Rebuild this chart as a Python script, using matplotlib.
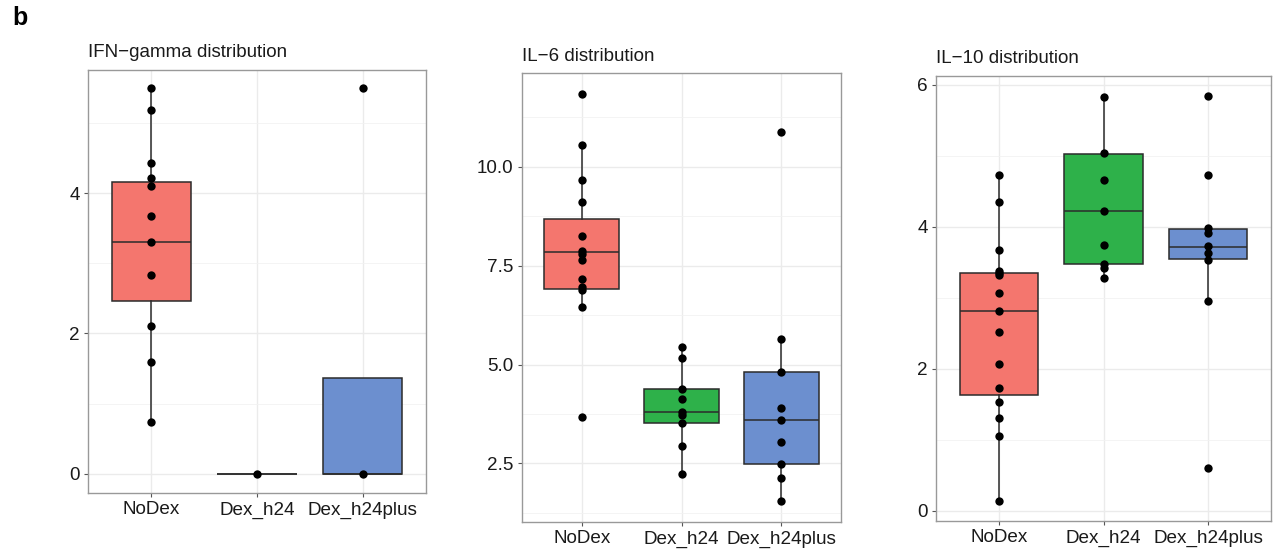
import matplotlib.pyplot as plt
from matplotlib.ticker import AutoMinorLocator, FormatStrFormatter

plt.rcParams['font.family'] = ['Liberation Sans', 'DejaVu Sans']

groups = ["NoDex", "Dex_h24", "Dex_h24plus"]
colors = ["#F4766E", "#2EB14A", "#6C8FCF"]

# IFN-gamma : points et stats des boites
ifn_pts = [
    [5.50, 5.19, 4.43, 4.22, 4.10, 3.68, 3.31, 2.83, 2.11, 1.59, 0.74],
    [0.0],
    [5.50, 0.0],
]
ifn_lo = [0.74, 0.0, 0.0]
ifn_q1 = [2.47, 0.0, 0.0]
ifn_med = [3.31, 0.0, 0.0]
ifn_q3 = [4.16, 0.0, 1.37]
ifn_hi = [5.50, 0.0, 1.37]

# IL-6
il6_pts = [
    [11.85, 10.55, 9.67, 9.12, 8.25, 7.87, 7.80, 7.65, 7.17, 6.95, 6.89, 6.46, 3.68],
    [5.45, 5.17, 4.37, 4.13, 3.81, 3.72, 3.51, 2.94, 2.23],
    [10.89, 5.64, 4.81, 3.90, 3.61, 3.05, 2.49, 2.13, 1.54],
]
il6_lo = [6.46, 2.23, 1.54]
il6_q1 = [6.92, 3.51, 2.49]
il6_med = [7.84, 3.81, 3.61]
il6_q3 = [8.69, 4.37, 4.81]
il6_hi = [10.55, 5.45, 5.64]

# IL-10
il10_pts = [
    [4.73, 4.34, 3.67, 3.38, 3.35, 3.32, 3.07, 2.81, 2.51, 2.06, 1.73, 1.53, 1.31, 1.05, 0.14],
    [5.82, 5.04, 4.65, 4.22, 3.74, 3.47, 3.41, 3.28],
    [5.84, 4.72, 3.98, 3.91, 3.72, 3.63, 3.53, 2.95, 0.60],
]
il10_lo = [0.14, 3.28, 2.95]
il10_q1 = [1.63, 3.47, 3.54]
il10_med = [2.81, 4.22, 3.71]
il10_q3 = [3.35, 5.02, 3.96]
il10_hi = [4.73, 5.82, 3.98]

W, H = 1275, 554
fig = plt.figure(figsize=(W / 100, H / 100), dpi=100)

def px_axes(x0, y0, x1, y1):
    # rectangle en pixels (origine en haut a gauche) -> coordonnees figure
    return fig.add_axes([x0 / W, 1 - y1 / H, (x1 - x0) / W, (y1 - y0) / H])

panels = [
    ("IFN\u2212gamma distribution", (88, 70, 426, 493), 57, ifn_pts,
     ifn_lo, ifn_q1, ifn_med, ifn_q3, ifn_hi, (-0.276, 5.76), [0, 2, 4], "%d"),
    ("IL\u22126 distribution", (522, 73, 841, 522), 61, il6_pts,
     il6_lo, il6_q1, il6_med, il6_q3, il6_hi, (1.02, 12.37), [2.5, 5.0, 7.5, 10.0], "%.1f"),
    ("IL\u221210 distribution", (936, 76, 1271, 521), 63, il10_pts,
     il10_lo, il10_q1, il10_med, il10_q3, il10_hi, (-0.146, 6.12), [0, 2, 4, 6], "%d"),
]

edge = "#2b2b2b"
for title, rect, ty, pts, lo, q1, med, q3, hi, ylim, yt, fmt in panels:
    ax = px_axes(*rect)
    stats = []
    for i in range(3):
        stats.append(dict(whislo=lo[i], q1=q1[i], med=med[i], q3=q3[i], whishi=hi[i]))
    bp = ax.bxp(stats, positions=[1, 2, 3], widths=0.75, patch_artist=True,
                showcaps=False, showfliers=False,
                boxprops=dict(edgecolor=edge, linewidth=1.1),
                medianprops=dict(color=edge, linewidth=1.1),
                whiskerprops=dict(color=edge, linewidth=1.1), zorder=2)
    for patch, c in zip(bp['boxes'], colors):
        patch.set_facecolor(c)
    for i, p in enumerate(pts):
        ax.plot([i + 1] * len(p), p, 'o', color='black', markersize=6,
                markeredgewidth=0, zorder=3)

    ax.set_xlim(0.4, 3.6)
    ax.set_ylim(*ylim)
    ax.set_xticks([1, 2, 3])
    ax.set_xticklabels(groups)
    ax.set_yticks(yt)
    ax.yaxis.set_major_formatter(FormatStrFormatter(fmt))
    ax.yaxis.set_minor_locator(AutoMinorLocator(2))
    ax.grid(True, which='major', color='#EBEBEB', linewidth=1.0, zorder=0)
    ax.grid(True, which='minor', axis='y', color='#F2F2F2', linewidth=0.6, zorder=0)
    ax.set_axisbelow(True)
    ax.tick_params(which='major', length=3, width=0.8, color='#555555',
                   labelsize=13.6, labelcolor='#1a1a1a', pad=3)
    ax.tick_params(which='minor', length=0)
    for s in ax.spines.values():
        s.set_color('#999999')
        s.set_linewidth(1.0)

    fig.text(rect[0] / W, 1 - ty / H, title, fontsize=13.5, color='#1a1a1a',
             ha='left', va='baseline')

fig.text(12 / W, 1 - 25 / H, "b", fontsize=18, fontweight='bold',
         ha='left', va='baseline')

fig.savefig("out.png", dpi=100)
